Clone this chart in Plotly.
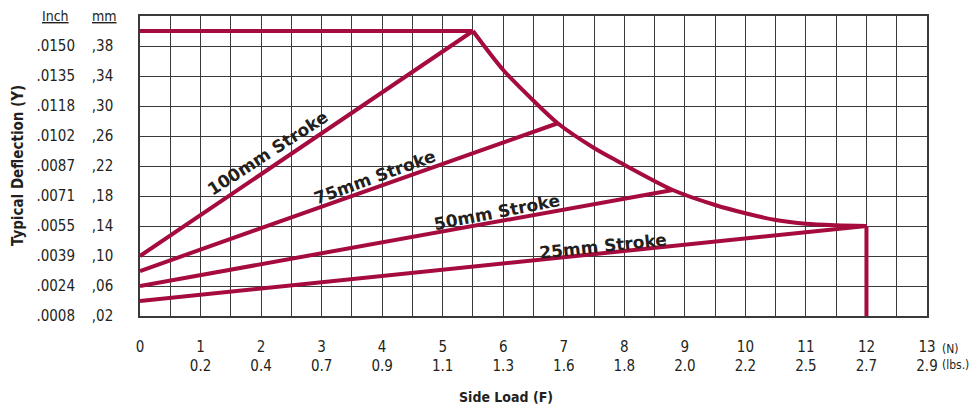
import plotly.graph_objects as go

# ---- data (side load in N, deflection in mm) ----
stroke_100_x = [0, 5.5]
stroke_100_y = [0.10, 0.40]
stroke_75_x = [0, 6.9]
stroke_75_y = [0.08, 0.277]
stroke_50_x = [0, 8.8]
stroke_50_y = [0.06, 0.188]
stroke_25_x = [0, 12.0]
stroke_25_y = [0.04, 0.14]

max_x = [0, 5.5]
max_y = [0.40, 0.40]

envelope_x = [5.5, 6.0, 6.5, 6.9, 7.5, 7.9, 8.8, 9.5, 10.0, 10.5, 11.0, 11.5, 12.0]
envelope_y = [0.40, 0.348, 0.307, 0.277, 0.244, 0.226, 0.188, 0.168, 0.157, 0.148, 0.143, 0.141, 0.14]

drop_x = [12.0, 12.0]
drop_y = [0.14, 0.02]

n_ticks = list(range(0, 14))
lbs_labels = ["", "0.2", "0.4", "0.7", "0.9", "1.1", "1.3", "1.6", "1.8", "2.0", "2.2", "2.5", "2.7", "2.9"]

mm_ticks = [0.02, 0.06, 0.10, 0.14, 0.18, 0.22, 0.26, 0.30, 0.34, 0.38]
mm_labels = [",02", ",06", ",10", ",14", ",18", ",22", ",26", ",30", ",34", ",38"]
inch_labels = [".0008", ".0024", ".0039", ".0055", ".0071", ".0087", ".0102", ".0118", ".0135", ".0150"]

stroke_labels = ["100mm Stroke", "75mm Stroke", "50mm Stroke", "25mm Stroke"]
label_x = [2.11, 3.88, 5.90, 7.65]
label_y = [0.237, 0.205, 0.159, 0.114]
label_angle = [-33, -20, -11, -6]

RED = "#A50B3C"
INK = "#231F20"
GRID = "#3A3A3A"
NARROW = "DejaVu Sans Condensed, Liberation Sans Narrow, sans-serif"

fig = go.Figure()

for xs, ys in [(max_x, max_y), (stroke_100_x, stroke_100_y), (stroke_75_x, stroke_75_y),
               (stroke_50_x, stroke_50_y), (stroke_25_x, stroke_25_y), (drop_x, drop_y)]:
    fig.add_trace(go.Scatter(x=xs, y=ys, mode="lines",
                             line=dict(color=RED, width=4),
                             hoverinfo="skip", showlegend=False))

fig.add_trace(go.Scatter(x=envelope_x, y=envelope_y, mode="lines",
                         line=dict(color=RED, width=4, shape="spline", smoothing=0.8),
                         hoverinfo="skip", showlegend=False))

# invisible trace so the inch axis gets drawn
fig.add_trace(go.Scatter(x=[0], y=[0.02], yaxis="y2", mode="markers",
                         marker=dict(opacity=0), hoverinfo="skip", showlegend=False))

for txt, x, y, a in zip(stroke_labels, label_x, label_y, label_angle):
    fig.add_annotation(x=x, y=y, text=txt, textangle=a, showarrow=False,
                       font=dict(family="DejaVu Sans", size=17, color=INK, weight="bold"))

fig.update_xaxes(
    range=[0, 13], tickvals=n_ticks,
    ticktext=[f"{n}<br>{l}" for n, l in zip(n_ticks, lbs_labels)],
    showgrid=True, gridcolor=GRID, gridwidth=1.3,
    minor=dict(dtick=0.5, showgrid=True, gridcolor=GRID, gridwidth=1.3),
    showline=True, linecolor=GRID, linewidth=1.5, mirror=True,
    zeroline=False, ticks="", ticklabelstandoff=16,
    tickfont=dict(family=NARROW, size=15, color=INK),
)
fig.update_yaxes(
    range=[0.02, 0.42], tickvals=mm_ticks, ticktext=mm_labels,
    showgrid=True, gridcolor=GRID, gridwidth=1.3,
    minor=dict(tickvals=[0.42], showgrid=True, gridcolor=GRID, gridwidth=1.3),
    showline=True, linecolor=GRID, linewidth=1.5, mirror=True,
    zeroline=False, ticks="", ticklabelstandoff=22,
    tickfont=dict(family=NARROW, size=15, color=INK),
)

# the page adds an 8px body margin, so the figure is 8px smaller on each axis
fig.update_layout(
    width=970, height=408,
    margin=dict(l=132, r=51, t=6, b=100),
    plot_bgcolor="white", paper_bgcolor="white",
    yaxis2=dict(overlaying="y", side="left", range=[0.02, 0.42],
                tickvals=mm_ticks, ticktext=inch_labels,
                showgrid=False, zeroline=False, showline=False, ticks="",
                ticklabelstandoff=64,
                tickfont=dict(family=NARROW, size=15, color=INK)),
)

fig.add_annotation(xref="paper", yref="paper", x=-0.108, y=1.0,
                   xanchor="center", yanchor="middle",
                   text="<u>Inch</u>", showarrow=False,
                   font=dict(family=NARROW, size=14, color=INK))
fig.add_annotation(xref="paper", yref="paper", x=-0.0445, y=1.0,
                   xanchor="center", yanchor="middle",
                   text="<u>mm</u>", showarrow=False,
                   font=dict(family=NARROW, size=14, color=INK))
fig.add_annotation(xref="paper", yref="paper", x=-0.155, y=0.5, textangle=-90,
                   xanchor="center", yanchor="middle",
                   text="Typical Deflection (Y)", showarrow=False,
                   font=dict(family=NARROW, size=15, color=INK, weight="bold"))
fig.add_annotation(xref="paper", yref="paper", x=0.465, y=-0.2715,
                   xanchor="center", yanchor="middle",
                   text="Side Load (F)", showarrow=False,
                   font=dict(family=NARROW, size=14, color=INK, weight="bold"))
fig.add_annotation(xref="paper", yref="paper", x=1.016, y=-0.136, xanchor="left", yanchor="middle",
                   text="(N)<br>(lbs.)", align="left", showarrow=False,
                   font=dict(family=NARROW, size=12, color=INK))

fig.write_html("out.html")
